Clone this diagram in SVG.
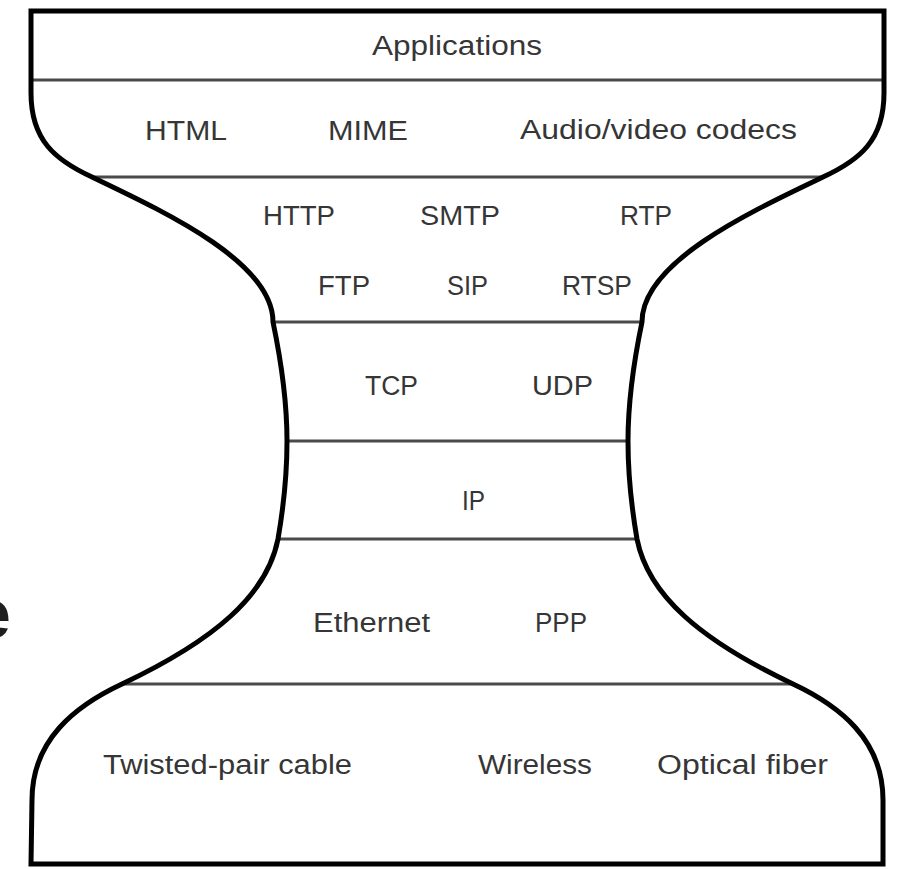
<svg xmlns="http://www.w3.org/2000/svg" width="899" height="869" viewBox="0 0 899 869">
<style>
.lbl{font-family:"Liberation Sans","Noto Sans",Arial,sans-serif;font-size:27px;fill:#363636;}
.sep{stroke:#4a4a4a;stroke-width:3;fill:none;}
.outline{stroke:#000;stroke-width:5;fill:none;stroke-linejoin:miter;}
</style>
<rect x="0" y="0" width="899" height="869" fill="#ffffff"/>
<text x="-28" y="638" font-family="Liberation Sans, sans-serif" font-weight="bold" font-size="70" fill="#1e1e1e">e</text>
<g id="connectors">
  <line class="sep" x1="31" y1="80" x2="884" y2="80"/>
  <line class="sep" x1="92" y1="177" x2="823" y2="177"/>
  <line class="sep" x1="273" y1="322" x2="642" y2="322"/>
  <line class="sep" x1="287" y1="441" x2="628" y2="441"/>
  <line class="sep" x1="278" y1="539" x2="637" y2="539"/>
  <line class="sep" x1="122" y1="684" x2="793" y2="684"/>
</g>
<g id="outline">
  <path class="outline" d="M 31,11 L 884,11 L 884,93 C 884,140 860,160 823,177 C 750,212 642,262 642,322 C 632,370 628,410 628,441 C 628,480 632,510 637,539 C 648,595 700,640 793,684 C 840,706 883,740 883,800 L 883,864 L 31,864 L 32,800 C 32,740 75,706 122,684 C 215,640 267,595 278,539 C 283,510 287,480 287,441 C 287,410 283,370 273,322 C 273,262 165,212 92,177 C 55,160 31,140 31,93 Z"/>
</g>
<g id="applications">
  <text class="lbl" x="372" y="55" textLength="170" lengthAdjust="spacingAndGlyphs">Applications</text>
</g>
<g id="formats">
  <text class="lbl" x="145" y="140" textLength="82" lengthAdjust="spacingAndGlyphs">HTML</text>
  <text class="lbl" x="328" y="140" textLength="80" lengthAdjust="spacingAndGlyphs">MIME</text>
  <text class="lbl" x="520" y="139" textLength="277" lengthAdjust="spacingAndGlyphs">Audio/video codecs</text>
</g>
<g id="app-protocols">
  <text class="lbl" x="263" y="225" textLength="72" lengthAdjust="spacingAndGlyphs">HTTP</text>
  <text class="lbl" x="420" y="225" textLength="80" lengthAdjust="spacingAndGlyphs">SMTP</text>
  <text class="lbl" x="620" y="225" textLength="52" lengthAdjust="spacingAndGlyphs">RTP</text>
  <text class="lbl" x="318" y="295" textLength="52" lengthAdjust="spacingAndGlyphs">FTP</text>
  <text class="lbl" x="447" y="295" textLength="41" lengthAdjust="spacingAndGlyphs">SIP</text>
  <text class="lbl" x="562" y="295" textLength="70" lengthAdjust="spacingAndGlyphs">RTSP</text>
</g>
<g id="transport">
  <text class="lbl" x="365" y="395" textLength="53" lengthAdjust="spacingAndGlyphs">TCP</text>
  <text class="lbl" x="532" y="395" textLength="61" lengthAdjust="spacingAndGlyphs">UDP</text>
</g>
<g id="network">
  <text class="lbl" x="462" y="510" textLength="23" lengthAdjust="spacingAndGlyphs">IP</text>
</g>
<g id="link">
  <text class="lbl" x="313" y="632" textLength="117" lengthAdjust="spacingAndGlyphs">Ethernet</text>
  <text class="lbl" x="535" y="632" textLength="52" lengthAdjust="spacingAndGlyphs">PPP</text>
</g>
<g id="physical">
  <text class="lbl" x="103" y="774" textLength="249" lengthAdjust="spacingAndGlyphs">Twisted-pair cable</text>
  <text class="lbl" x="478" y="774" textLength="114" lengthAdjust="spacingAndGlyphs">Wireless</text>
  <text class="lbl" x="657" y="774" textLength="171" lengthAdjust="spacingAndGlyphs">Optical fiber</text>
</g>
</svg>
